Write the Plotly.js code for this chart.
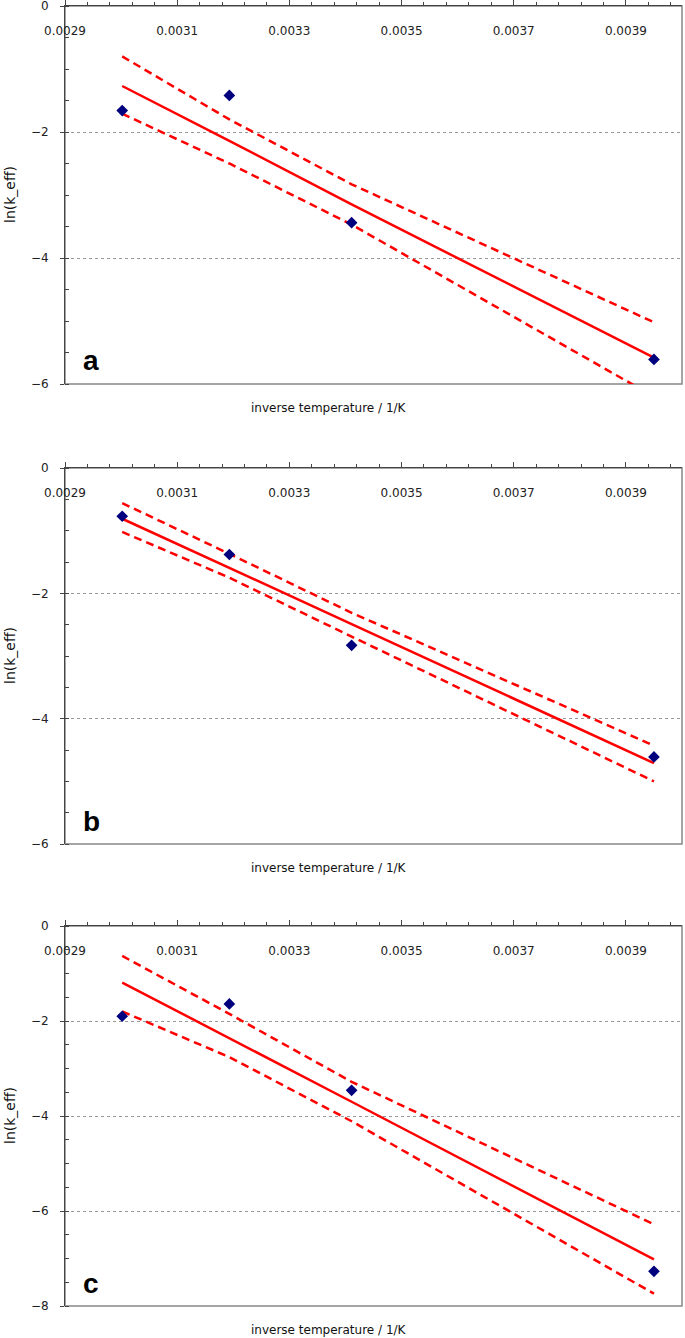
<!DOCTYPE html>
<html>
<head>
<meta charset="utf-8">
<script src="https://cdn.plot.ly/plotly-3.0.1.min.js"></script>
<style>
  body { margin: 0; background: #fff; }
  #chart { width: 685px; height: 1338px; }
</style>
</head>
<body>
<div id="chart"></div>
<script>
// inverse temperature (1/K) for 60, 40, 20 and -20 °C
var invT = [0.003002, 0.003193, 0.003411, 0.003950];

// panel a
var lnA = [-1.66, -1.42, -3.44, -5.61];
var fitA = [-1.27, -2.14, -3.15, -5.58];
var upperA = [-0.80, -1.80, -2.83, -5.02];
var lowerA = [-1.71, -2.50, -3.47, -6.20];

// panel b
var lnB = [-0.77, -1.38, -2.83, -4.61];
var fitB = [-0.81, -1.59, -2.49, -4.71];
var upperB = [-0.56, -1.37, -2.31, -4.43];
var lowerB = [-1.02, -1.75, -2.69, -5.00];

// panel c
var lnC = [-1.90, -1.64, -3.46, -7.27];
var fitC = [-1.19, -2.37, -3.70, -7.02];
var upperC = [-0.63, -1.85, -3.28, -6.28];
var lowerC = [-1.80, -2.76, -4.11, -7.74];

var panelLetters = ['a', 'b', 'c'];
var yMins = [-6, -6, -8];

var W = 685, H = 1338;
var font = 'DejaVu Sans, Verdana, sans-serif';
// plot boxes in pixels: [top, bottom]
var boxes = [[6, 384], [468, 844], [926, 1306]];
var left = 65, right = 682;

function px(x) { return x / W; }
function py(y) { return 1 - y / H; }

function xAxis(yname) {
  return {
    domain: [px(left), px(right)],
    range: [0.0029, 0.0040],
    anchor: yname,
    side: 'top',
    tick0: 0.0029,
    dtick: 0.0002,
    tickformat: '.4f',
    ticks: 'outside',
    ticklen: 5,
    tickcolor: '#444',
    minor: { tick0: 0.0029, dtick: 0.00004, ticks: 'outside', ticklen: 3, tickcolor: '#444' },
    ticklabelposition: 'inside',
    ticklabeloverflow: 'allow',
    ticklabelstandoff: 20,
    showline: true,
    linecolor: '#444',
    linewidth: 1,
    showgrid: false,
    zeroline: false,
    tickfont: { family: font, size: 12, color: '#222' },
  };
}

function yAxis(xname, box, lo) {
  return {
    domain: [py(box[1]), py(box[0])],
    range: [lo, 0],
    anchor: xname,
    tick0: 0,
    dtick: 2,
    ticks: 'outside',
    ticklen: 4,
    tickcolor: '#444',
    minor: { dtick: 0.5, ticks: 'inside', ticklen: 4, tickcolor: '#444', showgrid: false },
    showgrid: true,
    gridcolor: '#999',
    griddash: 'dot',
    gridwidth: 1,
    showline: true,
    linecolor: '#444',
    linewidth: 1,
    zeroline: false,
    ticklabelstandoff: 9,
    ticklabeloverflow: 'allow',
    tickfont: { family: font, size: 12, color: '#222' },
  };
}

function panelTraces(n, pts, fit, upper, lower) {
  var xa = n === 1 ? 'x' : 'x' + n;
  var ya = n === 1 ? 'y' : 'y' + n;
  var dashed = { color: '#ff0000', width: 2.5, dash: '8px,5px' };
  return [
    { x: invT, y: upper, xaxis: xa, yaxis: ya, mode: 'lines', line: dashed },
    { x: invT, y: lower, xaxis: xa, yaxis: ya, mode: 'lines', line: dashed },
    { x: invT, y: fit, xaxis: xa, yaxis: ya, mode: 'lines', line: { color: '#ff0000', width: 2.5 } },
    { x: invT, y: pts, xaxis: xa, yaxis: ya, mode: 'markers',
      marker: { symbol: 'diamond', size: 9, color: '#00007f' } },
  ];
}

var data = []
  .concat(panelTraces(1, lnA, fitA, upperA, lowerA))
  .concat(panelTraces(2, lnB, fitB, upperB, lowerB))
  .concat(panelTraces(3, lnC, fitC, upperC, lowerC));

var layout = {
  width: W,
  height: H,
  margin: { l: 0, r: 0, t: 0, b: 0 },
  paper_bgcolor: '#fff',
  plot_bgcolor: '#fff',
  showlegend: false,
  xaxis: xAxis('y'),
  xaxis2: xAxis('y2'),
  xaxis3: xAxis('y3'),
  yaxis: yAxis('x', boxes[0], yMins[0]),
  yaxis2: yAxis('x2', boxes[1], yMins[1]),
  yaxis3: yAxis('x3', boxes[2], yMins[2]),
  shapes: [],
  annotations: [],
};

boxes.forEach(function (b, i) {
  layout.shapes.push({
    type: 'rect', xref: 'paper', yref: 'paper', layer: 'below',
    x0: px(left), x1: px(right), y0: py(b[1]), y1: py(b[0]),
    line: { color: '#888', width: 1.5 },
  });
  // panel letter
  layout.annotations.push({
    xref: 'paper', yref: 'paper', x: px(91), y: py(b[1] - 23),
    xanchor: 'center', yanchor: 'middle',
    text: '<b>' + panelLetters[i] + '</b>', showarrow: false,
    font: { family: 'Liberation Sans, Arial, sans-serif', size: 28, color: '#000' },
  });
  // x title
  layout.annotations.push({
    xref: 'paper', yref: 'paper', x: px(329), y: py(b[1] + 24),
    xanchor: 'center', yanchor: 'middle',
    text: 'inverse temperature / 1/K', showarrow: false,
    font: { family: font, size: 12, color: '#111' },
  });
  // y title
  layout.annotations.push({
    xref: 'paper', yref: 'paper', x: px(10), y: py((b[0] + b[1]) / 2),
    xanchor: 'center', yanchor: 'middle',
    text: 'ln(k_eff)', textangle: -90, showarrow: false,
    font: { family: font, size: 14, color: '#111' },
  });
});

Plotly.newPlot('chart', data, layout, { displayModeBar: false, staticPlot: true });
</script>
</body>
</html>
